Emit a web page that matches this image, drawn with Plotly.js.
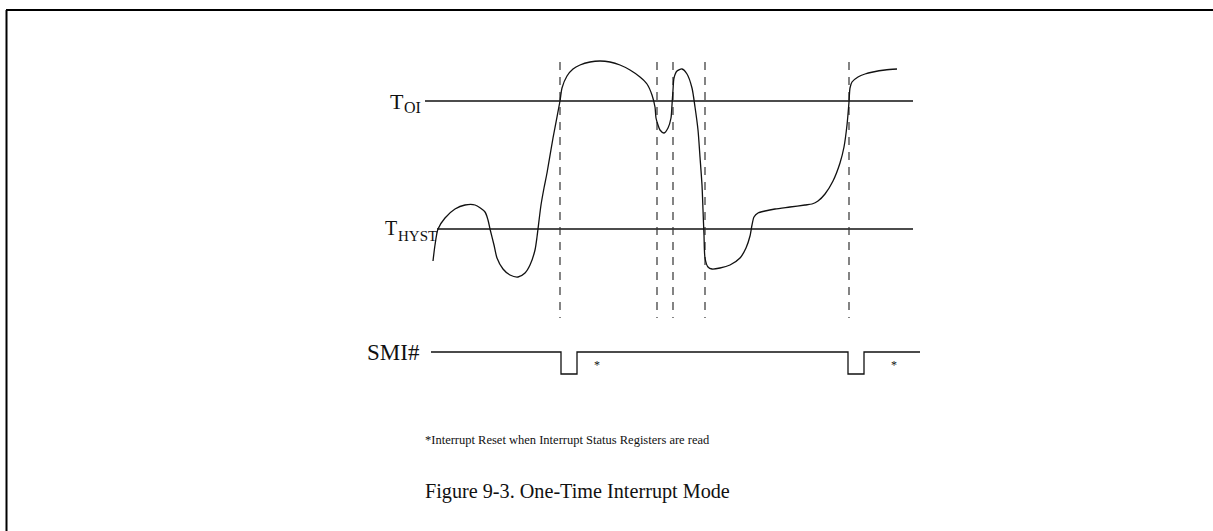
<!DOCTYPE html>
<html>
<head>
<meta charset="utf-8">
<script src="https://cdn.plot.ly/plotly-3.0.1.min.js"></script>
<style>html,body{margin:0;padding:0;background:#fff;}#chart{width:1213px;height:531px;}</style>
</head>
<body>
<div id="chart"></div>
<script>
// Temperature waveform (time, level) in diagram units
const tempTime = [433,435,438,445,455,465,475,485,488,490,494,497,503,510,518,525,530,535,537,538,541,544,547,553,560,562,567,573,580,590,600,610,620,630,640,647,652,655,656,658,660,664,668,671,672,673,674,677,682,687,692,695,698,700,702,703,704,705,708,712,720,730,740,746,750,752,754,758,765,775,790,805,812,818,825,833,840,844,847,849,850,852,858,865,873,885,897];
const tempLevel = [261,245,229,218,209,205,205,212,220,229,245,258,269,275,277,273,265,250,237,229,205,188,173,138,101,88,76,69,65,62,61,62,65,70,77,84,95,107,118,125,130,133,128,118,105,90,78,71,69,74,88,107,130,157,185,210,235,258,267,269,268,265,258,248,236,225,217,213,211,209,207,205,204,201,194,181,163,147,125,102,88,82,77,74,72,70,69];

// Threshold levels and their drawn extents
const thresholdMain = ["T", "T"];
const thresholdSub = ["OI", "HYST"];
const thresholdLevel = [101, 229];
const thresholdStart = [425, 437];
const thresholdEnd = [913, 913];

// Event times (dashed markers)
const eventTimes = [560, 657, 673, 705, 849];
const eventTop = 62;
const eventBottom = 318;

// SMI# signal
const smiTime = [431, 561, 561, 577, 577, 848, 848, 864, 864, 920];
const smiLevel = [352, 352, 374, 374, 352, 352, 374, 374, 352, 352];

const font = "Liberation Serif, Times New Roman, serif";
const traces = [];

thresholdLevel.forEach((lv, i) => {
  traces.push({x: [thresholdStart[i], thresholdEnd[i]], y: [lv, lv],
    mode: "lines", line: {color: "#111", width: 1.3}, hoverinfo: "skip", showlegend: false});
});
eventTimes.forEach(t => {
  traces.push({x: [t, t], y: [eventTop, eventBottom], mode: "lines",
    line: {color: "#333", width: 1.2, dash: "8px,7px"}, hoverinfo: "skip", showlegend: false});
});
traces.push({x: tempTime, y: tempLevel, mode: "lines",
  line: {color: "#111", width: 1.3, shape: "spline", smoothing: 0.7}, hoverinfo: "skip", showlegend: false});
traces.push({x: smiTime, y: smiLevel, mode: "lines",
  line: {color: "#111", width: 1.3}, hoverinfo: "skip", showlegend: false});

const ann = [
  {x: 389, y: 101, text: thresholdMain[0], xanchor: "left", yanchor: "middle", font: {size: 22}},
  {x: 403, y: 107, text: thresholdSub[0], xanchor: "left", yanchor: "middle", font: {size: 16}},
  {x: 384, y: 228, text: thresholdMain[1], xanchor: "left", yanchor: "middle", font: {size: 20}},
  {x: 397, y: 236, text: thresholdSub[1], xanchor: "left", yanchor: "middle", font: {size: 15}},
  {x: 421, y: 352, text: "SMI#", xanchor: "right", yanchor: "middle", font: {size: 23}},
  {x: 597, y: 365, text: "*", xanchor: "center", yanchor: "middle", font: {size: 12}},
  {x: 894, y: 365, text: "*", xanchor: "center", yanchor: "middle", font: {size: 12}},
  {x: 424, y: 440, text: "*Interrupt Reset when Interrupt Status Registers are read", xanchor: "left", yanchor: "middle", font: {size: 12.5}},
  {x: 424, y: 491, text: "Figure 9-3. One-Time Interrupt Mode", xanchor: "left", yanchor: "middle", font: {size: 20.2}}
].map(a => Object.assign({xref: "x", yref: "y", showarrow: false, borderpad: 0}, a,
  {font: Object.assign({family: font, color: "#111"}, a.font)}));

const layout = {
  width: 1213, height: 531,
  margin: {l: 0, r: 0, t: 0, b: 0, pad: 0},
  paper_bgcolor: "#fff", plot_bgcolor: "#fff",
  xaxis: {range: [0, 1213], visible: false, fixedrange: true},
  yaxis: {range: [531, 0], visible: false, fixedrange: true},
  showlegend: false,
  annotations: ann,
  shapes: [
    {type: "line", xref: "x", yref: "y", x0: 6, x1: 1213, y0: 10, y1: 10, line: {color: "#000", width: 2}},
    {type: "line", xref: "x", yref: "y", x0: 6.5, x1: 6.5, y0: 10, y1: 531, line: {color: "#000", width: 2}}
  ]
};

Plotly.newPlot("chart", traces, layout, {displayModeBar: false, staticPlot: true});
</script>
</body>
</html>
